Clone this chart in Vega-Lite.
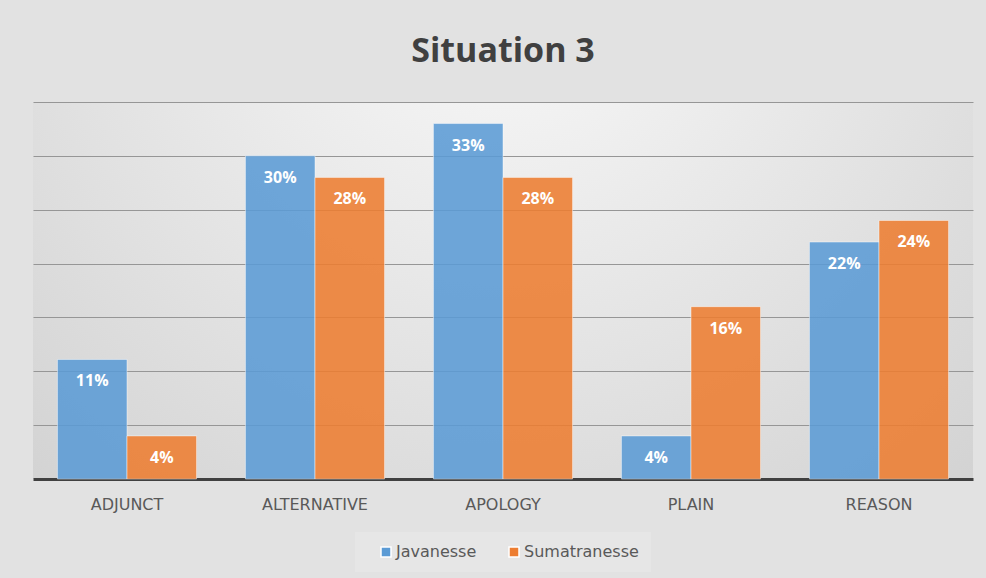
{
  "$schema": "https://vega.github.io/schema/vega-lite/v6.json",
  "width": 940,
  "height": 377,
  "autosize": {"type": "none"},
  "padding": {"left": 33, "top": 102, "right": 13, "bottom": 99},
  "background": "#e2e2e2",
  "config": {
    "view": {
      "stroke": null,
      "fill": {
        "gradient": "radial",
        "x1": 0.5, "y1": 0.15, "r1": 0,
        "x2": 0.5, "y2": 0.15, "r2": 0.8,
        "stops": [
          {"offset": 0, "color": "#fafafa"},
          {"offset": 1, "color": "#d0d0d0"}
        ]
      }
    },
    "font": "DejaVu Sans"
  },
  "title": {
    "text": "Situation 3",
    "fontSize": 34,
    "fontWeight": "bold",
    "font": "Open Sans",
    "color": "#404040",
    "anchor": "middle",
    "offset": 33
  },
  "data": {
    "values": [
      {"category": "ADJUNCT", "group": "Javanesse", "value": 11.1, "label": "11%"},
      {"category": "ADJUNCT", "group": "Sumatranesse", "value": 4.0, "label": "4%"},
      {"category": "ALTERNATIVE", "group": "Javanesse", "value": 30.0, "label": "30%"},
      {"category": "ALTERNATIVE", "group": "Sumatranesse", "value": 28.0, "label": "28%"},
      {"category": "APOLOGY", "group": "Javanesse", "value": 33.0, "label": "33%"},
      {"category": "APOLOGY", "group": "Sumatranesse", "value": 28.0, "label": "28%"},
      {"category": "PLAIN", "group": "Javanesse", "value": 4.0, "label": "4%"},
      {"category": "PLAIN", "group": "Sumatranesse", "value": 16.0, "label": "16%"},
      {"category": "REASON", "group": "Javanesse", "value": 22.0, "label": "22%"},
      {"category": "REASON", "group": "Sumatranesse", "value": 24.0, "label": "24%"}
    ]
  },
  "encoding": {
    "x": {
      "field": "category",
      "type": "nominal",
      "sort": null,
      "scale": {"paddingInner": 0.26, "paddingOuter": 0.13},
      "axis": {
        "title": null,
        "labelAngle": 0,
        "labelFont": "DejaVu Sans",
        "labelFontSize": 16,
        "labelColor": "#595959",
        "labelPadding": 17,
        "ticks": false,
        "domain": true,
        "domainColor": "#404040",
        "domainWidth": 3,
        "grid": false
      }
    },
    "xOffset": {"field": "group", "type": "nominal", "scale": {"paddingInner": 0, "paddingOuter": 0}},
    "y": {
      "field": "value",
      "type": "quantitative",
      "scale": {"domain": [0, 35], "nice": false},
      "axis": {
        "title": null,
        "labels": false,
        "ticks": false,
        "domain": false,
        "values": [5, 10, 15, 20, 25, 30, 35],
        "grid": true,
        "gridColor": "#969696",
        "gridWidth": 1
      }
    }
  },
  "layer": [
    {
      "mark": {"type": "bar", "fillOpacity": 0.88, "stroke": "#ffffff", "strokeOpacity": 0.45, "strokeWidth": 1},
      "encoding": {
        "color": {
          "field": "group",
          "type": "nominal",
          "scale": {"domain": ["Javanesse", "Sumatranesse"], "range": ["#5b9bd5", "#ed7d31"]},
          "legend": {
            "title": null,
            "orient": "none",
            "direction": "horizontal",
            "legendX": 322,
            "legendY": 430,
            "fillColor": "#e6e6e6",
            "padding": 12,
            "symbolOffset": 11,
            "symbolType": "square",
            "symbolSize": 100,
            "symbolOpacity": 1,
            "labelFont": "DejaVu Sans",
            "labelFontSize": 16,
            "labelColor": "#595959",
            "columnPadding": 18,
            "labelOffset": 2
          }
        }
      }
    },
    {
      "mark": {"type": "text", "color": "#ffffff", "font": "Open Sans", "fontSize": 16, "fontWeight": "bold", "dy": 22, "baseline": "middle"},
      "encoding": {
        "text": {"field": "label"}
      }
    }
  ]
}
